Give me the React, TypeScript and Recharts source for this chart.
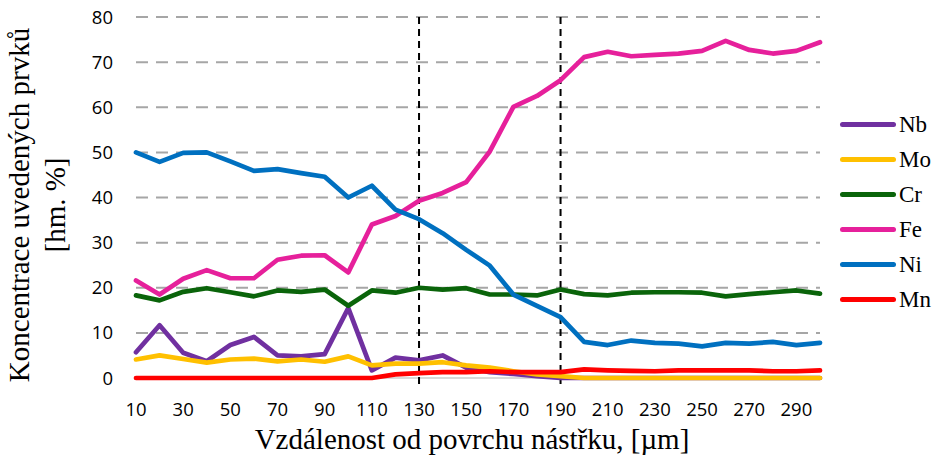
import React from "react";
import {
  LineChart,
  Line,
  XAxis,
  YAxis,
  CartesianGrid,
  ReferenceLine,
} from "recharts";

// distance from coating surface, µm
const depth = [
  10, 20, 30, 40, 50, 60, 70, 80, 90, 100, 110, 120, 130, 140, 150, 160, 170,
  180, 190, 200, 210, 220, 230, 240, 250, 260, 270, 280, 290, 300,
];

const nb = [
  5.7, 11.7, 5.6, 3.7, 7.3, 9.1, 5.0, 4.8, 5.3, 15.5, 1.7, 4.5, 3.9, 5.0, 2.3,
  1.3, 0.9, 0.4, 0, 0, 0, 0, 0, 0, 0, 0, 0, 0, 0, 0,
];
const mo = [
  4.1, 5.0, 4.2, 3.4, 4.1, 4.3, 3.7, 4.1, 3.6, 4.8, 2.8, 3.2, 3.2, 3.5, 2.8,
  2.3, 1.5, 0.8, 0.4, 0, 0, 0, 0, 0, 0, 0, 0, 0, 0, 0,
];
const cr = [
  18.3, 17.2, 19.1, 19.9, 19.0, 18.1, 19.4, 19.1, 19.6, 16.0, 19.4, 18.9, 20.0,
  19.6, 19.9, 18.5, 18.5, 18.3, 19.6, 18.6, 18.3, 18.9, 19.0, 19.0, 18.9, 18.1,
  18.6, 19.0, 19.4, 18.7,
];
const fe = [
  21.6, 18.5, 22.0, 23.9, 22.1, 22.1, 26.2, 27.1, 27.2, 23.4, 34.0, 35.9, 39.3,
  41.0, 43.4, 50.2, 60.1, 62.5, 66.0, 71.1, 72.3, 71.3, 71.6, 71.9, 72.5, 74.7,
  72.7, 71.9, 72.5, 74.4,
];
const ni = [
  50.0, 47.9, 49.9, 50.0, 48.0, 45.9, 46.3, 45.4, 44.6, 40.0, 42.6, 37.3, 35.2,
  32.1, 28.4, 24.9, 18.5, 16.0, 13.5, 8.0, 7.3, 8.3, 7.8, 7.6, 7.0, 7.8, 7.6,
  8.0, 7.3, 7.8,
];
const mn = [
  0, 0, 0, 0, 0, 0, 0, 0, 0, 0, 0, 0.8, 1.1, 1.3, 1.3, 1.5, 1.3, 1.3, 1.3, 1.9,
  1.7, 1.6, 1.5, 1.7, 1.7, 1.7, 1.7, 1.5, 1.5, 1.7,
];

const yTicks = [0, 10, 20, 30, 40, 50, 60, 70, 80];
const gridValues = [10, 20, 30, 40, 50, 60, 70, 80];
const markers = [130, 190];

const series = [
  { key: "Nb", color: "#7030A0" },
  { key: "Mo", color: "#FFC000" },
  { key: "Cr", color: "#0A640A" },
  { key: "Fe", color: "#E6209B" },
  { key: "Ni", color: "#0070C0" },
  { key: "Mn", color: "#FF0000" },
];

const data = depth.map((x, i) => ({
  x,
  Nb: nb[i],
  Mo: mo[i],
  Cr: cr[i],
  Fe: fe[i],
  Ni: ni[i],
  Mn: mn[i],
}));

const serif = '"Liberation Serif", "DejaVu Serif", serif';
const sans = '"Open Sans", "Liberation Sans", sans-serif';

// legend drawn by hand so it doesn't eat into the plot width
function LegendBox() {
  return (
    <div
      style={{
        position: "absolute",
        left: 840,
        top: 107,
        fontFamily: serif,
        fontSize: 23,
        color: "#000",
      }}
    >
      {series.map((s) => (
        <div
          key={s.key}
          style={{ display: "flex", alignItems: "center", height: 35 }}
        >
          <div
            style={{
              width: 56,
              height: 5,
              borderRadius: 3,
              background: s.color,
              marginRight: 3,
            }}
          />
          <span>{s.key}</span>
        </div>
      ))}
    </div>
  );
}

export default function App() {
  return (
    <div
      style={{
        position: "absolute",
        left: 0,
        top: 0,
        width: 936,
        height: 466,
        background: "#fff",
      }}
    >
      <LineChart
        width={936}
        height={466}
        data={data}
        margin={{ top: 17, right: 116, left: 0, bottom: 0 }}
      >
        <CartesianGrid
          vertical={false}
          horizontalValues={gridValues}
          stroke="#a6a6a6"
          strokeWidth={2}
          strokeDasharray="12 8"
        />
        <CartesianGrid
          vertical={false}
          horizontalValues={[0]}
          stroke="#d9d9d9"
          strokeWidth={2}
        />
        <XAxis
          dataKey="x"
          type="category"
          interval={1}
          height={88}
          tickLine={false}
          axisLine={false}
          tickMargin={19}
          tick={{ fill: "#000", fontSize: 18.5, fontFamily: sans }}
        />
        <YAxis
          domain={[0, 80]}
          ticks={yTicks}
          width={136}
          axisLine={false}
          tickLine={false}
          tickMargin={17}
          tick={{ fill: "#000", fontSize: 18.5, fontFamily: sans }}
        />
        {markers.map((m) => (
          <ReferenceLine
            key={m}
            segment={[
              { x: m, y: 80 },
              { x: m, y: -1.6 },
            ]}
            ifOverflow="visible"
            stroke="#000"
            strokeWidth={2}
            strokeDasharray="7 5"
          />
        ))}
        {series.map((s) => (
          <Line
            key={s.key}
            dataKey={s.key}
            type="linear"
            stroke={s.color}
            strokeWidth={4.7}
            strokeLinecap="round"
            strokeLinejoin="round"
            dot={false}
            isAnimationActive={false}
          />
        ))}
      </LineChart>
      <LegendBox />
      <div
        style={{
          position: "absolute",
          left: 41 - 220,
          top: 205 - 40,
          width: 440,
          height: 80,
          transform: "rotate(-90deg)",
          transformOrigin: "50% 50%",
          textAlign: "center",
          fontFamily: serif,
          fontSize: 29,
          lineHeight: "36px",
          color: "#000",
          whiteSpace: "nowrap",
        }}
      >
        Koncentrace uvedených prvků
        <br />
        [hm. %]
      </div>
      <div
        style={{
          position: "absolute",
          left: 172,
          top: 421,
          width: 600,
          textAlign: "center",
          fontFamily: serif,
          fontSize: 29,
          lineHeight: "36px",
          color: "#000",
          whiteSpace: "nowrap",
        }}
      >
        Vzdálenost od povrchu nástřku, [µm]
      </div>
    </div>
  );
}
